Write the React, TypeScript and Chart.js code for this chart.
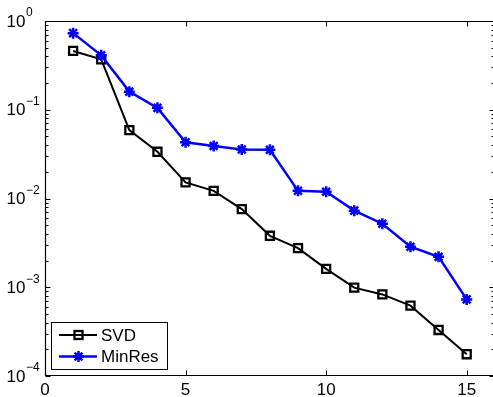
import React, { useEffect, useRef } from 'react';
import { Chart, registerables } from 'chart.js';

Chart.register(...registerables);

const iterations = [1, 2, 3, 4, 5, 6, 7, 8, 9, 10, 11, 12, 13, 14, 15];
const svdValues = [0.46, 0.37, 0.059, 0.0336, 0.0152, 0.0122, 0.0076, 0.0038, 0.00276, 0.00161, 0.00099, 0.00083, 0.00062, 0.00033, 0.000176];
const minresValues = [0.73, 0.41, 0.16, 0.105, 0.043, 0.039, 0.0357, 0.0354, 0.0122, 0.0119, 0.0073, 0.0052, 0.00286, 0.0022, 0.00073];
const xTickValues = [0, 5, 10, 15];
const xTickLabels = ['0', '5', '10', '15'];
const yTickExponents = [0, -1, -2, -3, -4];
const yTickExponentLabels = ['0', '\u22121', '\u22122', '\u22123', '\u22124'];
const legendLabels = ['SVD', 'MinRes'];

const FONT = '"Liberation Sans", Arial, Helvetica, sans-serif';
const BLUE = '#0000ff';

function drawStar(ctx: CanvasRenderingContext2D, x: number, y: number, r: number) {
  ctx.beginPath();
  for (let i = 0; i < 4; i++) {
    const ang = (i * Math.PI) / 4;
    const dx = Math.cos(ang) * r;
    const dy = Math.sin(ang) * r;
    ctx.moveTo(x - dx, y - dy);
    ctx.lineTo(x + dx, y + dy);
  }
  ctx.stroke();
}

const framePlugin = {
  id: 'matlabFrame',
  afterDraw(chart: any) {
    const { ctx, chartArea: a, scales } = chart;
    const xs = scales.x;
    const ys = scales.y;
    ctx.save();
    ctx.strokeStyle = '#000';
    ctx.lineWidth = 1.2;
    const L = Math.round(a.left) + 0.5;
    const R = Math.round(a.right) - 0.5;
    const T = Math.round(a.top) + 0.5;
    const B = Math.round(a.bottom) - 0.5;
    ctx.beginPath();
    ctx.rect(L, T, R - L, B - T);
    ctx.stroke();

    ctx.lineWidth = 1;
    ctx.beginPath();
    xTickValues.forEach((v) => {
      const px = Math.round(xs.getPixelForValue(v)) + 0.5;
      ctx.moveTo(px, B);
      ctx.lineTo(px, B - 5);
      ctx.moveTo(px, T);
      ctx.lineTo(px, T + 5);
    });
    yTickExponents.forEach((e) => {
      const py = Math.round(ys.getPixelForValue(Math.pow(10, e))) + 0.5;
      ctx.moveTo(L, py);
      ctx.lineTo(L + 5, py);
      ctx.moveTo(R, py);
      ctx.lineTo(R - 5, py);
      if (e < 0) {
        for (let m = 2; m <= 9; m++) {
          const my = Math.round(ys.getPixelForValue(m * Math.pow(10, e))) + 0.5;
          ctx.moveTo(L, my);
          ctx.lineTo(L + 3, my);
          ctx.moveTo(R, my);
          ctx.lineTo(R - 3, my);
        }
      }
    });
    ctx.stroke();

    ctx.fillStyle = '#000';
    ctx.font = `17px ${FONT}`;
    ctx.textAlign = 'center';
    ctx.textBaseline = 'middle';
    xTickValues.forEach((v, i) => {
      const px = xs.getPixelForValue(v);
      ctx.fillText(xTickLabels[i], px, a.bottom + 14);
    });

    yTickExponents.forEach((e, i) => {
      const py = ys.getPixelForValue(Math.pow(10, e));
      ctx.font = `17px ${FONT}`;
      ctx.textAlign = 'right';
      ctx.textBaseline = 'middle';
      ctx.fillText('10', 25.5, py + 1);
      ctx.font = `12px ${FONT}`;
      ctx.textAlign = 'left';
      ctx.fillText(yTickExponentLabels[i], 26, py - 8);
    });

    const lx = 51.5, ly = 322.5, lw = 116, lh = 47;
    ctx.fillStyle = '#fff';
    ctx.fillRect(lx, ly, lw, lh);
    ctx.strokeStyle = '#000';
    ctx.lineWidth = 1;
    ctx.strokeRect(lx, ly, lw, lh);

    const rows = [335, 356.5];
    ctx.strokeStyle = '#000';
    ctx.lineWidth = 2;
    ctx.beginPath();
    ctx.moveTo(59, rows[0]);
    ctx.lineTo(97, rows[0]);
    ctx.stroke();
    ctx.lineWidth = 2.3;
    ctx.strokeRect(74.5, rows[0] - 4, 8, 8);
    ctx.strokeStyle = BLUE;
    ctx.lineWidth = 2.5;
    ctx.beginPath();
    ctx.moveTo(59, rows[1]);
    ctx.lineTo(97, rows[1]);
    ctx.stroke();
    ctx.lineWidth = 2.5;
    drawStar(ctx, 78.5, rows[1], 5.5);

    ctx.fillStyle = '#000';
    ctx.font = `17px ${FONT}`;
    ctx.textAlign = 'left';
    ctx.textBaseline = 'middle';
    ctx.fillText(legendLabels[0], 101, rows[0] + 1);
    ctx.fillText(legendLabels[1], 101, rows[1] + 1);
    ctx.restore();
  },
};

export default function App() {
  const canvasRef = useRef<HTMLCanvasElement | null>(null);

  useEffect(() => {
    if (!canvasRef.current) return;
    const chart = new Chart(canvasRef.current, {
      type: 'line',
      data: {
        datasets: [
          {
            label: legendLabels[1],
            data: iterations.map((x, i) => ({ x, y: minresValues[i] })),
            borderColor: BLUE,
            backgroundColor: BLUE,
            borderWidth: 2.5,
            pointStyle: 'star',
            pointRadius: 5.5,
            pointBorderWidth: 2.5,
            pointBorderColor: BLUE,
            pointBackgroundColor: BLUE,
            tension: 0,
            order: 0,
          },
          {
            label: legendLabels[0],
            data: iterations.map((x, i) => ({ x, y: svdValues[i] })),
            borderColor: '#000',
            backgroundColor: 'rgba(0,0,0,0)',
            borderWidth: 2,
            pointStyle: 'rect',
            pointRadius: 5.7,
            pointBorderWidth: 2.3,
            pointBorderColor: '#000',
            pointBackgroundColor: 'rgba(0,0,0,0)',
            tension: 0,
            order: 1,
          },
        ],
      },
      options: {
        responsive: false,
        animation: false,
        devicePixelRatio: 1,
        layout: { autoPadding: false, padding: { left: 45, top: 21, right: 2.2, bottom: 21 } },
        plugins: { legend: { display: false }, tooltip: { enabled: false } },
        scales: {
          x: { type: 'linear', min: 0, max: 16, display: false },
          y: { type: 'logarithmic', min: 1e-4, max: 1, display: false },
        },
      },
      plugins: [framePlugin],
    });
    return () => chart.destroy();
  }, []);

  return (
    <div style={{ position: 'absolute', left: 0, top: 0, width: 493, height: 397, overflow: 'hidden', background: '#fff' }}>
      <canvas ref={canvasRef} width={497} height={397} style={{ display: 'block', width: 497, height: 397 }} />
    </div>
  );
}
